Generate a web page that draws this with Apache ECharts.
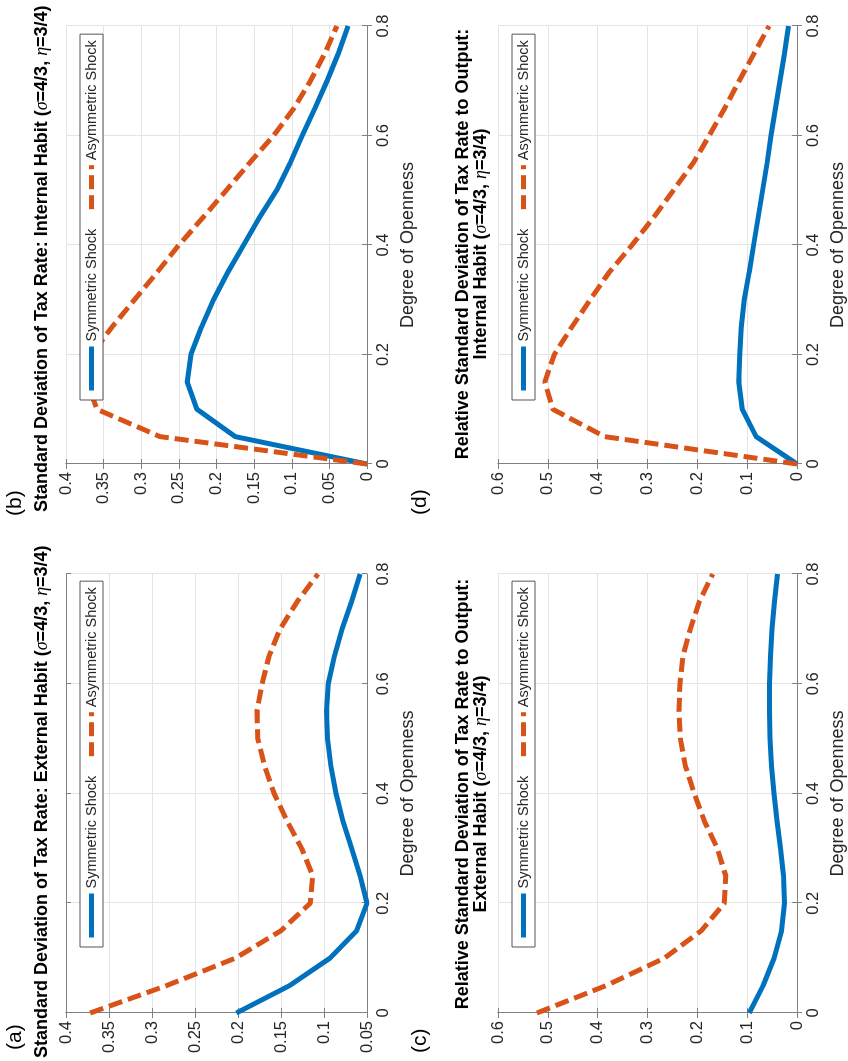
<!DOCTYPE html>
<html>
<head>
<meta charset="utf-8">
<script src="https://cdn.jsdelivr.net/npm/echarts@6/dist/echarts.min.js"></script>
<style>
  html, body { margin: 0; padding: 0; background: #fff; }
  #page { width: 848px; height: 1061px; overflow: hidden; position: relative; }
  /* figure is drawn landscape and turned a quarter turn, like the scan */
  #chart { width: 1061px; height: 848px; position: absolute; left: 0; top: 0;
           transform-origin: 0 0; transform: translate(0, 1061px) rotate(-90deg); }
</style>
</head>
<body>
<div id="page"><div id="chart"></div></div>
<script>
var openness = [0, 0.05, 0.1, 0.15, 0.2, 0.25, 0.3, 0.35, 0.4, 0.45, 0.5, 0.55, 0.6, 0.65, 0.7, 0.75, 0.8];

// (a) std of tax rate, external habit
var aSym  = [0.202, 0.14, 0.093, 0.062, 0.05, 0.058, 0.068, 0.078, 0.086, 0.092, 0.096, 0.097, 0.095, 0.088, 0.079, 0.068, 0.058];
var aAsym = [0.372, 0.283, 0.203, 0.15, 0.116, 0.113, 0.126, 0.143, 0.158, 0.169, 0.177, 0.178, 0.172, 0.164, 0.151, 0.131, 0.107];
// (b) std of tax rate, internal habit
var bSym  = [0, 0.175, 0.226, 0.239, 0.234, 0.22, 0.204, 0.185, 0.164, 0.143, 0.12, 0.102, 0.086, 0.069, 0.053, 0.038, 0.025];
var bAsym = [0, 0.275, 0.359, 0.372, 0.366, 0.339, 0.309, 0.279, 0.25, 0.218, 0.187, 0.156, 0.124, 0.097, 0.075, 0.056, 0.04];
// (c) relative std to output, external habit
var cSym  = [0.096, 0.068, 0.046, 0.031, 0.025, 0.027, 0.033, 0.04, 0.046, 0.051, 0.054, 0.055, 0.055, 0.053, 0.05, 0.045, 0.039];
var cAsym = [0.522, 0.383, 0.266, 0.192, 0.146, 0.143, 0.16, 0.186, 0.206, 0.224, 0.234, 0.237, 0.235, 0.229, 0.214, 0.196, 0.169];
// (d) relative std to output, internal habit
var dSym  = [0, 0.082, 0.11, 0.117, 0.115, 0.112, 0.106, 0.096, 0.087, 0.078, 0.069, 0.06, 0.052, 0.043, 0.034, 0.025, 0.017];
var dAsym = [0, 0.386, 0.49, 0.506, 0.487, 0.452, 0.415, 0.377, 0.331, 0.288, 0.248, 0.208, 0.176, 0.145, 0.116, 0.086, 0.056];

var yRanges = [[0.05, 0.4, 0.05], [0, 0.4, 0.05], [0, 0.6, 0.1], [0, 0.6, 0.1]];
var symData = [aSym, bSym, cSym, dSym];
var asymData = [aAsym, bAsym, cAsym, dAsym];

var FONT = 'Liberation Sans, Arial, Helvetica, sans-serif';
var TXT = '#262626';
var FRAME = '#808080';
var BLUE = '#0072BD', ORANGE = '#D95319';

var grids = [
  {left: 48,  top: 66,  width: 439, height: 301},
  {left: 597, top: 66,  width: 438, height: 301},
  {left: 48,  top: 498, width: 439, height: 300},
  {left: 597, top: 498, width: 438, height: 300}
];
var legendPos = [[114, 80], [661, 80], [114, 512], [661, 512]];

function pairs(xs, ys) {
  return xs.map(function (x, i) { return [x, ys[i]]; });
}
function fmt(v) { return String(+v.toFixed(3)); }

var xAxes = [], yAxes = [], series = [], legends = [];
for (var i = 0; i < 4; i++) {
  var r = yRanges[i];
  xAxes.push({
    type: 'value', gridIndex: i, position: 'bottom', min: 0, max: 0.8, interval: 0.2,
    name: 'Degree of Openness', nameLocation: 'middle', nameGap: 32,
    nameTextStyle: {fontFamily: FONT, fontSize: 18, color: TXT},
    axisLine: {show: true, lineStyle: {color: FRAME, width: 1}},
    axisTick: {show: true, inside: true, length: 5, lineStyle: {color: FRAME}},
    axisLabel: {fontFamily: FONT, fontSize: 16.5, color: TXT, margin: 8, formatter: fmt},
    splitLine: {show: true, lineStyle: {color: '#e4e4e4', width: 1}}
  });
  xAxes.push({
    type: 'value', gridIndex: i, position: 'top', min: 0, max: 0.8, interval: 0.2,
    axisLine: {show: true, lineStyle: {color: FRAME, width: 1}},
    axisTick: {show: true, inside: true, length: 5, lineStyle: {color: FRAME}},
    axisLabel: {show: false}, splitLine: {show: false}
  });
  yAxes.push({
    type: 'value', gridIndex: i, position: 'left', min: r[0], max: r[1], interval: r[2],
    axisLine: {show: true, lineStyle: {color: FRAME, width: 1}},
    axisTick: {show: true, inside: true, length: 5, lineStyle: {color: FRAME}},
    axisLabel: {fontFamily: FONT, fontSize: 16.5, color: TXT, margin: 8, formatter: fmt},
    splitLine: {show: true, lineStyle: {color: '#e4e4e4', width: 1}}
  });
  yAxes.push({
    type: 'value', gridIndex: i, position: 'right', min: r[0], max: r[1], interval: r[2],
    axisLine: {show: true, lineStyle: {color: FRAME, width: 1}},
    axisTick: {show: true, inside: true, length: 5, lineStyle: {color: FRAME}},
    axisLabel: {show: false}, splitLine: {show: false}
  });
  series.push({
    name: 'Symmetric Shock', type: 'line', xAxisIndex: 2 * i, yAxisIndex: 2 * i,
    data: pairs(openness, symData[i]), symbol: 'none', color: BLUE,
    lineStyle: {color: BLUE, width: 5}
  });
  series.push({
    name: 'Asymmetric Shock', type: 'line', xAxisIndex: 2 * i, yAxisIndex: 2 * i,
    data: pairs(openness, asymData[i]), symbol: 'none', color: ORANGE,
    lineStyle: {color: ORANGE, width: 5, type: [14, 6]}
  });
  legends.push({
    left: legendPos[i][0], top: legendPos[i][1], orient: 'horizontal',
    data: ['Symmetric Shock', 'Asymmetric Shock'],
    itemWidth: 44, itemHeight: 14, itemGap: 17, padding: [4, 6, 4, 7],
    backgroundColor: '#fff', borderColor: '#555', borderWidth: 1,
    selectedMode: false,
    itemStyle: {opacity: 0},
    lineStyle: {width: 5},
    textStyle: {fontFamily: FONT, fontSize: 14.5, color: TXT}
  });
}

var richGreek = {
  g: {fontFamily: 'Liberation Serif, DejaVu Serif, serif', fontStyle: 'italic', fontWeight: 'normal',
      fontSize: 18, color: '#000', lineHeight: 18}
};
function titleStyle() {
  return {fontFamily: FONT, fontSize: 18, fontWeight: 'bold', color: '#000', lineHeight: 18, rich: richGreek};
}
var letterStyle = {fontFamily: FONT, fontSize: 21, fontWeight: 'normal', color: '#000'};

var titles = [
  {text: '(a)', left: 11, top: 5, padding: 0, textStyle: letterStyle},
  {text: '(b)', left: 545, top: 5, padding: 0, textStyle: letterStyle},
  {text: '(c)', left: 8, top: 410, padding: 0, textStyle: letterStyle},
  {text: '(d)', left: 546, top: 410, padding: 0, textStyle: letterStyle},
  {text: 'Standard Deviation of Tax Rate: External Habit ({g|σ}=4/3, {g|η}=3/4)',
   left: 3, top: 33, padding: 0, textStyle: titleStyle()},
  {text: 'Standard Deviation of Tax Rate: Internal Habit ({g|σ}=4/3, {g|η}=3/4)',
   left: 549, top: 33, padding: 0, textStyle: titleStyle()},
  {text: 'Relative Standard Deviation of Tax Rate to Output:\nExternal Habit ({g|σ}=4/3, {g|η}=3/4)',
   left: 267, top: 454, padding: 0, textAlign: 'center', textStyle: titleStyle()},
  {text: 'Relative Standard Deviation of Tax Rate to Output:\nInternal Habit ({g|σ}=4/3, {g|η}=3/4)',
   left: 817, top: 454, padding: 0, textAlign: 'center', textStyle: titleStyle()}
];

var chart = echarts.init(document.getElementById('chart'), null, {renderer: 'canvas'});
chart.setOption({
  backgroundColor: '#fff',
  animation: false,
  title: titles,
  legend: legends,
  grid: grids,
  xAxis: xAxes,
  yAxis: yAxes,
  series: series
});
</script>
</body>
</html>
